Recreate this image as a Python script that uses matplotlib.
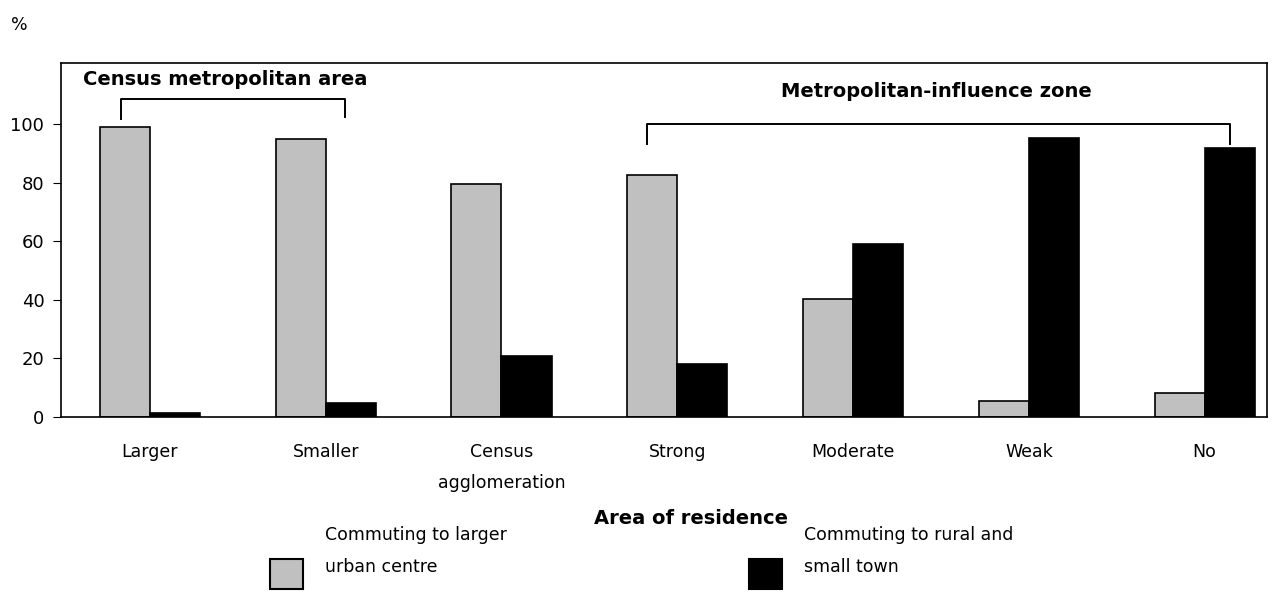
import numpy as np
import matplotlib.pyplot as plt
from matplotlib.patches import Rectangle

categories = ["Larger", "Smaller", "Census\nagglomeration", "Strong", "Moderate", "Weak", "No"]
larger_urban = [99, 95, 79.6, 82.8, 40.4, 5.4, 8.1]
rural_small = [1.5, 4.8, 21, 18, 59.2, 95.3, 92.1]
series_names = ["Commuting to larger\nurban centre", "Commuting to rural and\nsmall town"]
yticks = [0, 20, 40, 60, 80, 100]

plt.rcParams['font.family'] = ['DejaVu Sans']

fig = plt.figure(figsize=(12.79, 6.01), dpi=100)
ax = fig.add_axes([61/1279, 1 - 417/601, (1267-61)/1279, (417-63)/601])

x = np.arange(len(categories))
w = 0.285
gray = "#c0c0c0"
ax.bar(x - w/2, larger_urban, w, color=gray, edgecolor="black", linewidth=1.2)
ax.bar(x + w/2, rural_small, w, color="black", edgecolor="black", linewidth=1.2)

ax.set_xlim(-0.506, 6.355)
ax.set_ylim(0, 121)
ax.set_yticks(yticks)
ax.set_xticks(x)
ax.set_xticklabels(categories, fontsize=12.5, linespacing=1.95, va="top")
ax.tick_params(axis="x", length=0, pad=18.5)
ax.tick_params(axis="y", direction="out", length=6, labelsize=13, pad=6)
for s in ["left", "top", "right", "bottom"]:
    ax.spines[s].set_linewidth(1.2)

# brackets for the two groups
def bracket(x0, x1, ytop, ybot_l, ybot_r, label, ylab, xlab):
    ax.plot([x0, x0, x1, x1], [ybot_l, ytop, ytop, ybot_r], color="black", lw=1.4, clip_on=False)
    ax.text(xlab, ylab, label, ha="center", va="center", fontsize=14, fontweight="bold")

bracket(0 - w/2 - 0.02, 1 + w/2 - 0.03, 108.7, 101.8, 102.6, "Census metropolitan area", 115.4, 0.43)
bracket(3 - w/2 - 0.03, 6 + w/2, 100.1, 93.2, 93.2, "Metropolitan-influence zone", 111.1, 4.474)

fig.text(11/1279, 1 - 25/601, "%", fontsize=12.5, ha="left", va="center")
fig.text(691/1279, 1 - 518/601, "Area of residence", fontsize=14, fontweight="bold", ha="center", va="center")

# legend drawn by hand: square sits lower than its two-line label
legend_items = [(270, gray, series_names[0]), (749, "black", series_names[1])]
for xl, col, name in legend_items:
    fig.patches.append(Rectangle((xl/1279, 1 - 589/601), 33/1279, 30/601, transform=fig.transFigure,
                                 facecolor=col, edgecolor="black", linewidth=1.5))
    fig.text((xl + 55)/1279, 1 - 551/601, name, fontsize=12.5, ha="left", va="center", linespacing=1.95)

fig.savefig("out.png", dpi=100)
